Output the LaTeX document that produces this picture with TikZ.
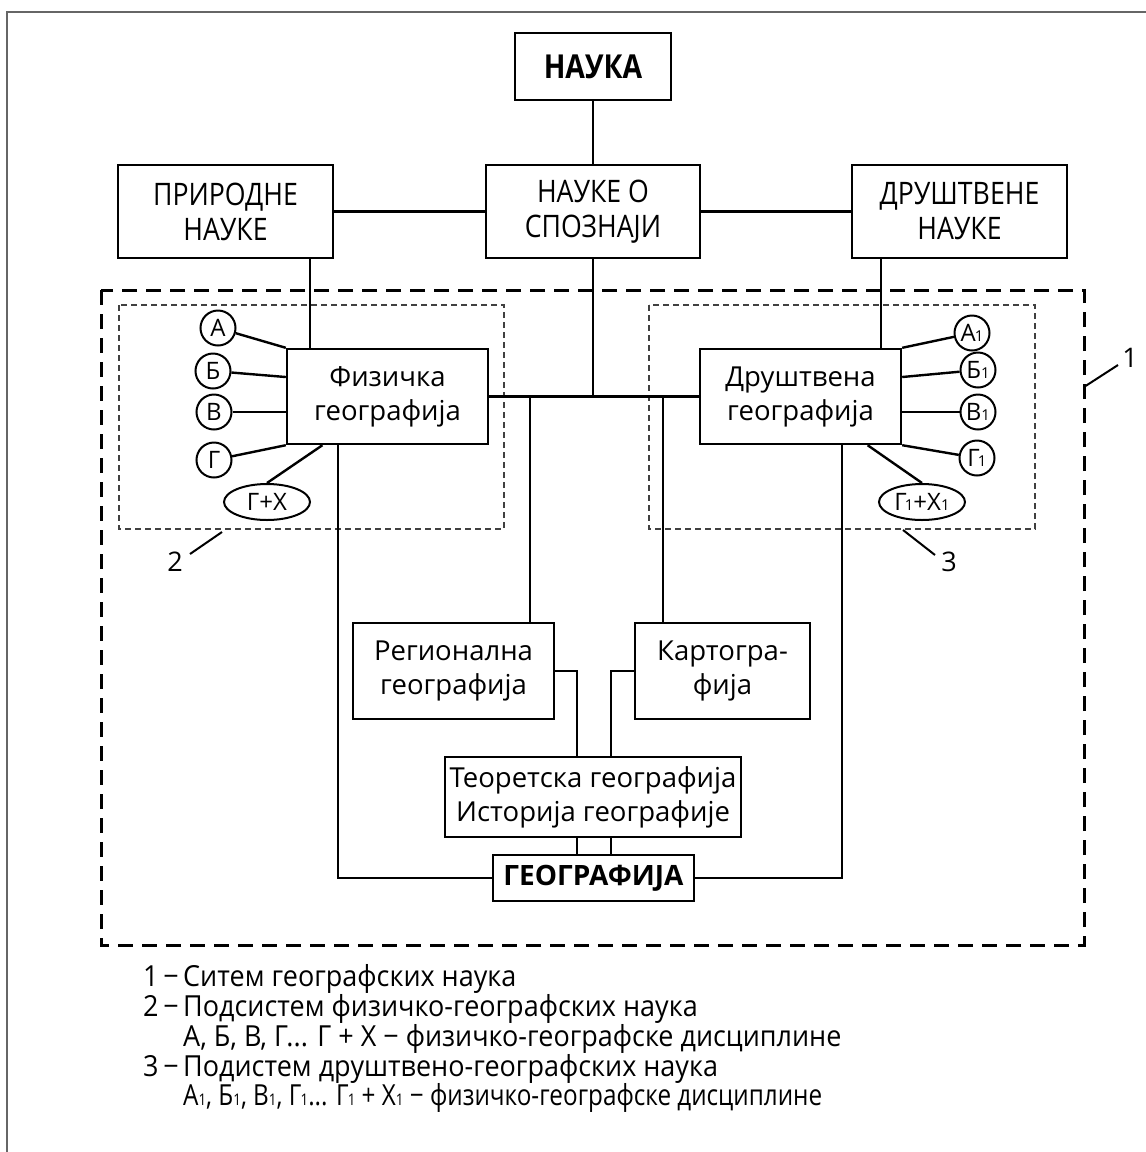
\documentclass[tikz,border=0pt]{standalone}
\usepackage{fontspec}
\setmainfont{Open Sans}
\newfontfamily\condf{Open Sans}[FakeStretch=0.86]
\newfontfamily\legf{Open Sans}[FakeStretch=0.93]
\usetikzlibrary{shapes.geometric,calc}
\tikzset{
  box/.style={draw, line width=2.4pt, inner sep=0pt, align=center, font=\fontsize{27.5}{34}\selectfont},
  topbox/.style={box, font=\condf\fontsize{31}{35}\selectfont},
  circ/.style={draw, circle, line width=2pt, minimum size=35pt, inner sep=0pt, font=\fontsize{24}{24}\selectfont},
  ell/.style={draw, ellipse, line width=2pt, minimum width=86pt, minimum height=36pt, inner sep=0pt, font=\fontsize{24}{24}\selectfont},
  conn/.style={line width=2.4pt},
  bigdash/.style={line width=3pt, dash pattern=on 15pt off 9pt},
  smalldash/.style={line width=1.3pt, dash pattern=on 6pt off 4pt, black!75},
  lbl/.style={font=\fontsize{27}{27}\selectfont, inner sep=1pt},
  leg/.style={anchor=west, inner sep=0pt, font=\legf\fontsize{29}{29}\selectfont},
}
\newcommand{\sub}[1]{{\fontsize{15}{15}\selectfont #1}}
\newcommand{\lsub}[1]{{\fontsize{16}{16}\selectfont #1}}
\newcommand{\legnum}[1]{\makebox[40pt][l]{#1\,−}}
\begin{document}
\begin{tikzpicture}[x=1pt,y=-1pt]
\useasboundingbox (0,0) rectangle (1146,1152);
\draw[black!60, line width=2pt] (7,1152) -- (7,12) -- (1146,12);

% dashed systems
\draw[bigdash] (101,290) rectangle (1084,945);
\draw[smalldash] (119,305) rectangle (504,529);
\draw[smalldash] (649,305) rectangle (1035,529);

% boxes
\node[box, minimum width=156pt, minimum height=67pt, font=\condf\bfseries\fontsize{33}{33}\selectfont] (nauka) at (593,66.5) {НАУКА};
\node[topbox, minimum width=215pt, minimum height=93pt] (prir) at (225.5,211.5) {ПРИРОДНЕ\\НАУКЕ};
\node[topbox, minimum width=214pt, minimum height=93pt] (spoz) at (593,211.5) {НАУКЕ О\\СПОЗНАЈИ};
\node[topbox, minimum width=215pt, minimum height=93pt] (drus) at (959.5,211.5) {ДРУШТВЕНЕ\\НАУКЕ};
\node[box, minimum width=201pt, minimum height=95pt] (fiz) at (387.5,396.5) {Физичка\\географија};
\node[box, minimum width=201pt, minimum height=95pt] (drg) at (800.5,396.5) {Друштвена\\географија};
\node[box, minimum width=201pt, minimum height=96pt] (reg) at (453.5,671) {Регионална\\географија};
\node[box, minimum width=175pt, minimum height=96pt] (kart) at (722.5,671) {Картогра-\\фија};
\node[box, minimum width=296pt, minimum height=80pt] (teor) at (593,797) {Теоретска географија\\Историја географије};
\node[box, minimum width=201pt, minimum height=46pt, font=\bfseries\fontsize{28}{28}\selectfont] (geo) at (593.5,878) {ГЕОГРАФИЈА};

% x positions of vertical connectors
\coordinate (xL) at (310,0);
\coordinate (xR) at (881,0);
\coordinate (xa) at (530,0);
\coordinate (xb) at (663,0);
\coordinate (xc) at (577,0);
\coordinate (xd) at (611,0);
\coordinate (xe) at (338,0);
\coordinate (xf) at (842,0);

% connectors
\draw[conn] (nauka.south) -- (spoz.north);
\draw[conn] (prir.east) -- (spoz.west);
\draw[conn] (spoz.east) -- (drus.west);
\draw[conn] (prir.south -| xL) -- (fiz.north -| xL);
\draw[conn] (drus.south -| xR) -- (drg.north -| xR);
\draw[conn] (fiz.east) -- (drg.west);
\draw[conn] (spoz.south) -- (spoz.south |- fiz.east);
\draw[conn] (fiz.east -| xa) -- (reg.north -| xa);
\draw[conn] (fiz.east -| xb) -- (kart.north -| xb);
\draw[conn] (reg.east) -| (teor.north -| xc);
\draw[conn] (kart.west) -| (teor.north -| xd);
\draw[conn] (teor.south -| xc) -- (geo.north -| xc);
\draw[conn] (teor.south -| xd) -- (geo.north -| xd);
\draw[conn] (fiz.south -| xe) |- (geo.west);
\draw[conn] (drg.south -| xf) |- (geo.east);

% physical geography disciplines
\node[circ] (a) at (218,328) {А};
\node[circ] (b) at (213,371) {Б};
\node[circ] (v) at (214,412) {В};
\node[circ] (g) at (214,460) {Г};
\node[ell] (gx) at (267,502) {Г+Х};
\draw[conn] (a) -- (fiz.north west);
\draw[conn] (b) -- ($(fiz.north west)!0.3!(fiz.south west)$);
\draw[conn] (v) -- (v -| fiz.west);
\draw[conn] (g) -- (fiz.south west);
\draw[conn] (gx.north) -- ($(fiz.south west)!0.18!(fiz.south east)$);

% social geography disciplines
\node[circ] (a1) at (972,333) {А\kern-1pt\sub{1}};
\node[circ] (b1) at (978,370) {Б\sub{1}};
\node[circ] (v1) at (978,412) {В\sub{1}};
\node[circ] (g1) at (977,458) {Г\kern-2pt\sub{1}};
\node[ell] (gx1) at (922,502) {Г\kern-2pt\sub{1}+Х\sub{1}};
\draw[conn] (a1) -- (drg.north east);
\draw[conn] (b1) -- ($(drg.north east)!0.3!(drg.south east)$);
\draw[conn] (v1) -- (v1 -| drg.east);
\draw[conn] (g1) -- (drg.south east);
\draw[conn] (gx1.north) -- ($(drg.south west)!0.83!(drg.south east)$);

% labels 1,2,3
\node[lbl] (l1) at (1130,358) {1};
\coordinate (p1a) at (1084,387);
\coordinate (p1b) at (1118,365);
\draw[line width=2pt] (p1a) -- (p1b);
\node[lbl] (l2) at (175,562) {2};
\coordinate (p2a) at (190,554);
\coordinate (p2b) at (222,532);
\draw[line width=2pt] (p2a) -- (p2b);
\node[lbl] (l3) at (949,562) {3};
\coordinate (p3a) at (903,530);
\coordinate (p3b) at (935,555);
\draw[line width=2pt] (p3a) -- (p3b);

% legend
\node[leg] (t1) at (143,979) {\legnum{1}Ситем географских наука};
\node[leg] (t2) at (143,1009) {\legnum{2}Подсистем физичко-географских наука};
\node[leg] (t3) at (143,1039) {\hspace*{40pt}А, Б, В, Г... Г + Х − физичко-географске дисциплине};
\node[leg] (t4) at (143,1069) {\legnum{3}Подистем друштвено-географских наука};
\node[leg] (t5) at (143,1098) {\hspace*{40pt}\scalebox{0.9}[1]{А\lsub{1}, Б\lsub{1}, В\lsub{1}, Г\kern-1pt\lsub{1}... Г\kern-1pt\lsub{1} + Х\lsub{1} − физичко-географске дисциплине}};
\end{tikzpicture}
\end{document}
